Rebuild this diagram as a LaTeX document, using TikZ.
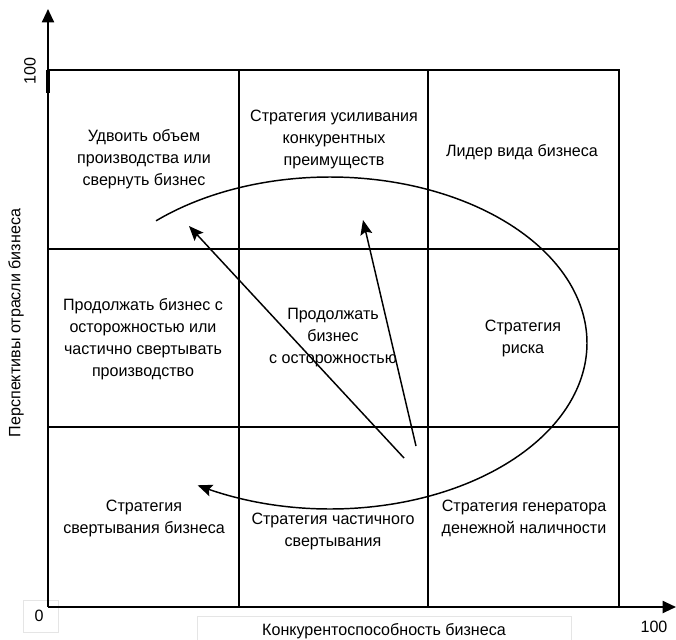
\documentclass[tikz,border=0pt]{standalone}
\usepackage{fontspec}
\setmainfont{Liberation Sans}[FakeStretch=0.98]
\usetikzlibrary{arrows.meta}
\begin{document}
\begin{tikzpicture}[x=0.75pt,y=-0.75pt,
  gridline/.style={line width=1.5pt},
  axisline/.style={line width=1.5pt,-{Triangle[length=10pt,width=9pt]}},
  lbl/.style={align=center,font=\fontsize{12.3}{16.5}\selectfont,inner sep=0pt},
  arr/.style={line width=1.1pt,-{Stealth[length=11pt,width=9pt,inset=2pt]}},
  faint/.style={draw=black!10,line width=0.5pt}]
\useasboundingbox (0,0) rectangle (676,640);
% faint frames
\draw[faint] (23,600) rectangle (58,632);
\draw[faint] (197,616) rectangle (571,641);
% grid
\draw[gridline] (48,70) -- (619,70) -- (619,607);
\draw[gridline] (48,249) -- (619,249);
\draw[gridline] (48,427) -- (619,427);
\draw[gridline] (239,70) -- (239,607);
\draw[gridline] (428,70) -- (428,607);
% axes
\coordinate (O) at (48,607);
\coordinate (Ytip) at (48,9);
\coordinate (Xtip) at (676,607);
\draw[axisline] (O) -- (Ytip);
\draw[axisline] (O) -- (Xtip);
\draw[line width=2.5pt] (48,70) -- (48,93);
% cell texts
\node[lbl] (c11) at (144,159) {Удвоить объем\\производства или\\свернуть бизнес};
\node[lbl] (c12) at (334,139) {Стратегия усиливания\\конкурентных\\преимуществ};
\node[lbl] (c13) at (522,152) {Лидер вида бизнеса};
\node[lbl] (c21) at (143,339) {Продолжать бизнес с\\осторожностью или\\частично свертывать\\производство};
\node[lbl] (c22) at (333,338) {Продолжать\\бизнес\\с осторожностью};
\node[lbl] (c23) at (523,338) {Стратегия\\риска};
\node[lbl] (c31) at (144,518) {Стратегия\\свертывания бизнеса};
\node[lbl] (c32) at (333,531) {Стратегия частичного\\свертывания};
\node[lbl] (c33) at (524,518) {Стратегия генератора\\денежной наличности};
% axis labels
\node[lbl] (zero) at (39,616) {0};
\node[lbl] (xmax) at (654,627) {100};
\node[lbl,rotate=90] (ymax) at (30,71) {100};
\node[lbl] (xlab) at (384,631) {Конкурентоспособность бизнеса};
\node[lbl,rotate=90] (ylab) at (16,323) {Перспективы отрасли бизнеса};
% ellipse arc
\draw[arr] plot[domain=-132.6:121,samples=150,smooth] ({330+257*cos(\x)},{343+166*sin(\x)});
% arrows
\coordinate (a1s) at (404,458);
\coordinate (a1e) at (189,226);
\coordinate (a2s) at (416,446);
\coordinate (a2e) at (363,220);
\draw[arr] (a1s) -- (a1e);
\draw[arr] (a2s) -- (a2e);
\end{tikzpicture}
\end{document}
